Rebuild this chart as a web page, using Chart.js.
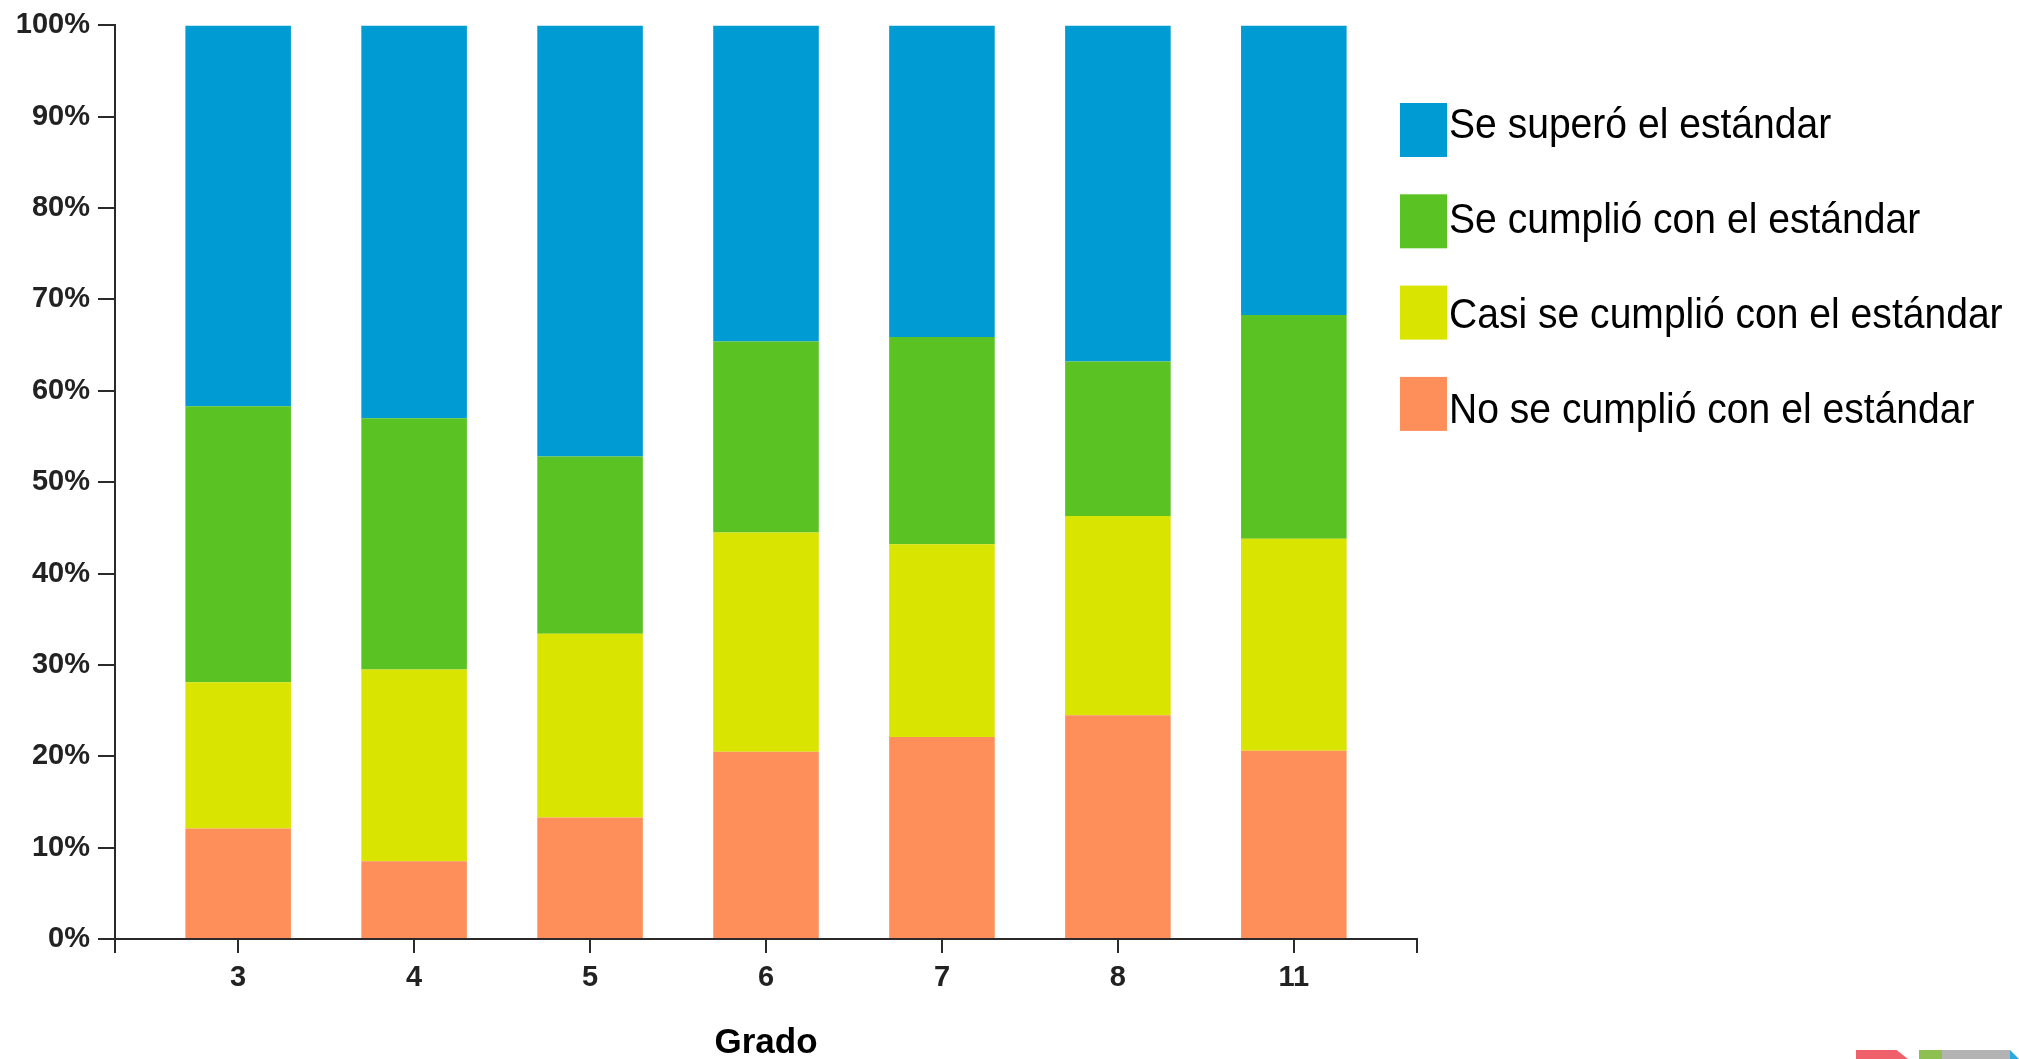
<!DOCTYPE html>
<html lang="es">
<head>
<meta charset="utf-8">
<title>Resultados por grado</title>
<script src="https://cdn.jsdelivr.net/npm/chart.js@4.4.1/dist/chart.umd.min.js"></script>
<style>
  html, body { margin: 0; padding: 0; background: #fff; }
  #wrap { position: relative; width: 2019px; height: 1059px; }
  .logo { position: absolute; top: 1050px; height: 9px; }
</style>
</head>
<body>
<div id="wrap">
  <canvas id="chart"></canvas>
  <div class="logo" style="left:1856px;width:52px;background:#f0606a;clip-path:polygon(0 0,78% 0,100% 100%,0 100%)"></div>
  <div class="logo" style="left:1919px;width:23px;background:#8dc050"></div>
  <div class="logo" style="left:1942px;width:68px;background:#b3b3b3"></div>
  <div class="logo" style="left:2010px;width:9px;background:#2aa8e0;clip-path:polygon(0 0,100% 100%,0 100%)"></div>
</div>
<script>
// grados (eje x)
const grados = ['3', '4', '5', '6', '7', '8', '11'];

// porcentajes por nivel (de abajo hacia arriba)
const noCumplio = [12.1, 8.5, 13.3, 20.5, 22.1, 24.5, 20.6];
const casiCumplio = [16.0, 21.0, 20.1, 24.0, 21.1, 21.8, 23.2];
const cumplio = [30.2, 27.5, 19.4, 20.9, 22.7, 16.9, 24.5];
const supero = [41.7, 43.0, 47.2, 34.6, 34.1, 36.8, 31.7];

const nombres = [
    'No se cumplió con el estándar',
    'Casi se cumplió con el estándar',
    'Se cumplió con el estándar',
    'Se superó el estándar'
];
const colores = ['#ff8f5a', '#d9e400', '#5ac222', '#009bd2'];

const toPoints = (vals) => vals.map((v, i) => ({ x: i, y: v }));
const tickFont = { family: '"Liberation Sans", Arial, sans-serif', size: 29, weight: 'bold' };

// leyenda a la derecha, caja pegada al texto
const legendBoxes = {
    id: 'legendBoxes',
    afterDraw(chart) {
        const ctx = chart.ctx;
        const sets = chart.data.datasets;
        const left = chart.chartArea.right - 17;
        ctx.save();
        ctx.font = '42px "Liberation Sans", Arial, sans-serif';
        for (let k = 0; k < sets.length; k++) {
            const ds = sets[sets.length - 1 - k];
            const top = 103 + k * 91.3;
            ctx.fillStyle = ds.backgroundColor;
            ctx.fillRect(left, top, 47, 54);
            ctx.fillStyle = '#000';
            ctx.save();
            ctx.translate(left + 49, 138 + k * 95);
            ctx.scale(0.93, 1);
            ctx.fillText(ds.label, 0, 0);
            ctx.restore();
        }
        ctx.restore();
    }
};

new Chart(document.getElementById('chart'), {
    type: 'bar',
    data: {
        datasets: [
            { label: nombres[0], data: toPoints(noCumplio), backgroundColor: colores[0] },
            { label: nombres[1], data: toPoints(casiCumplio), backgroundColor: colores[1] },
            { label: nombres[2], data: toPoints(cumplio), backgroundColor: colores[2] },
            { label: nombres[3], data: toPoints(supero), backgroundColor: colores[3] }
        ]
    },
    options: {
        responsive: true,
        maintainAspectRatio: false,
        animation: false,
        layout: { padding: { top: 25, right: 602, bottom: 0, left: 0 } },
        // el ancho de barra se mide contra el hueco de 0.7 entre el extremo y la primera marca
        datasets: { bar: { barPercentage: 0.857, categoryPercentage: 1, borderWidth: 0 } },
        scales: {
            x: {
                type: 'linear',
                stacked: true,
                offset: false,
                min: -0.7,
                max: 6.7,
                afterBuildTicks: (scale) => {
                    const vals = [scale.min].concat(grados.map((g, i) => i), [scale.max]);
                    scale.ticks = vals.map(v => ({ value: v }));
                },
                afterFit: (scale) => { scale.height = 120; },
                grid: { offset: false, drawOnChartArea: false, tickLength: 14, color: '#2a2a2a', lineWidth: 2 },
                border: { color: '#2a2a2a', width: 2 },
                ticks: {
                    autoSkip: false,
                    maxRotation: 0,
                    padding: 8,
                    color: '#222',
                    font: tickFont,
                    callback: (v) => Number.isInteger(v) ? grados[v] : ''
                },
                title: {
                    display: true,
                    text: 'Grado',
                    color: '#000',
                    padding: { top: 0, bottom: -5 },
                    font: { family: '"Liberation Sans", Arial, sans-serif', size: 35, weight: 'bold' }
                }
            },
            y: {
                stacked: true,
                min: 0,
                max: 100,
                afterFit: (scale) => { scale.width = 115; },
                grid: { drawOnChartArea: false, tickLength: 17, color: '#2a2a2a', lineWidth: 2 },
                border: { color: '#2a2a2a', width: 2 },
                ticks: {
                    stepSize: 10,
                    padding: 8,
                    color: '#222',
                    font: tickFont,
                    callback: (v) => v + '%'
                }
            }
        },
        plugins: {
            legend: { display: false },
            tooltip: { enabled: false }
        }
    },
    plugins: [legendBoxes]
});
</script>
</body>
</html>
